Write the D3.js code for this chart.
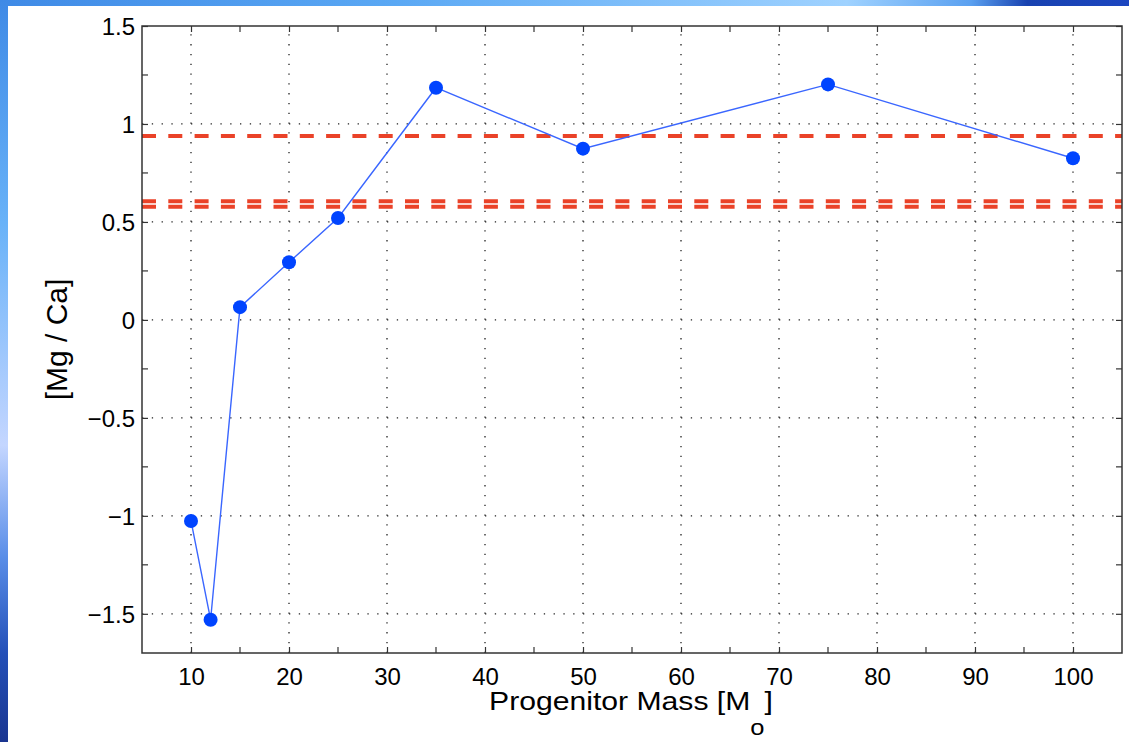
<!DOCTYPE html>
<html><head><meta charset="utf-8">
<script src="https://cdn.jsdelivr.net/npm/d3@7/dist/d3.min.js"></script>
<style>body{margin:0;background:#fff;}svg{display:block;}</style>
</head><body>
<svg id="c" width="1129" height="742"></svg>
<script>
// ---- data ----
const masses = [10, 12, 15, 20, 25, 35, 50, 75, 100];
const mgCa = [-1.026, -1.53, 0.065, 0.294, 0.52, 1.185, 0.874, 1.202, 0.825];
const refLevels = [0.938, 0.606, 0.578];
const xTicks = [10, 20, 30, 40, 50, 60, 70, 80, 90, 100];
const xTickLabels = ["10", "20", "30", "40", "50", "60", "70", "80", "90", "100"];
const xMinor = [15, 25, 35, 45, 55, 65, 75, 85, 95];
const yTicks = [-1.5, -1, -0.5, 0, 0.5, 1, 1.5];
const yTickLabels = ["\u22121.5", "\u22121", "\u22120.5", "0", "0.5", "1", "1.5"];
const yMinor = [-1.25, -0.75, -0.25, 0.25, 0.75, 1.25];
const xTitle = "Progenitor Mass [M";
const xTitleSub = "o";
const yTitle = "[Mg / Ca]";

const svg = d3.select("#c");
const W = 1129, H = 742;
const L = 142, R = 1122, T = 26, B = 653;
const font = "'Liberation Sans', Arial, Helvetica, sans-serif";

// slide background
const defs = svg.append("defs");
const gTop = defs.append("linearGradient").attr("id", "gTop").attr("x1", 0).attr("x2", 1).attr("y1", 0).attr("y2", 0);
[[0, "#3f8ae6"], [0.35, "#5aa8f4"], [0.75, "#9fd2ff"], [0.86, "#5aa0f0"], [0.91, "#1842b0"], [1, "#1c46c0"]]
  .forEach(s => gTop.append("stop").attr("offset", s[0]).attr("stop-color", s[1]));
const gLeft = defs.append("linearGradient").attr("id", "gLeft").attr("x1", 0).attr("x2", 0).attr("y1", 0).attr("y2", 1);
[[0, "#3f8ae6"], [0.3, "#68b2f8"], [0.6, "#c4d6ff"], [0.75, "#5a8ee8"], [0.88, "#2450b8"], [1, "#1a3590"]]
  .forEach(s => gLeft.append("stop").attr("offset", s[0]).attr("stop-color", s[1]));
svg.append("rect").attr("x", 0).attr("y", 0).attr("width", W).attr("height", 6).attr("fill", "url(#gTop)");
svg.append("rect").attr("x", 0).attr("y", 0).attr("width", 8).attr("height", H).attr("fill", "url(#gLeft)");

const x = d3.scaleLinear().domain([5, 105]).range([L, R]);
const y = d3.scaleLinear().domain([-1.7, 1.5]).range([B, T]);

// grid
const grid = svg.append("g").attr("stroke", "#222").attr("stroke-width", 1.3).attr("stroke-dasharray", "1.3,8.5");
grid.selectAll(".vx").data(xTicks).join("line")
  .attr("x1", d => x(d)).attr("x2", d => x(d)).attr("y1", B).attr("y2", T);
grid.selectAll(".hy").data(yTicks.filter(d => d < 1.5)).join("line")
  .attr("x1", L).attr("x2", R).attr("y1", d => y(d)).attr("y2", d => y(d));

// reference dashed lines
svg.append("g").selectAll("line").data(refLevels).join("line")
  .attr("x1", L).attr("x2", R).attr("y1", d => y(d)).attr("y2", d => y(d))
  .attr("stroke", "#ea4228").attr("stroke-width", 4).attr("stroke-dasharray", "14,12.3");

// axes
const tl = 6;
const axB = svg.append("g").attr("transform", `translate(0,${B})`)
  .call(d3.axisBottom(x).tickValues(xTicks).tickSizeInner(-tl).tickSizeOuter(0).tickPadding(14)
    .tickFormat((d, i) => xTickLabels[i]));
const axT = svg.append("g").attr("transform", `translate(0,${T})`)
  .call(d3.axisTop(x).tickValues(xTicks).tickSizeInner(-tl).tickSizeOuter(0).tickFormat(""));
const axL = svg.append("g").attr("transform", `translate(${L},0)`)
  .call(d3.axisLeft(y).tickValues(yTicks).tickSizeInner(-tl).tickSizeOuter(0).tickPadding(13)
    .tickFormat((d, i) => yTickLabels[i]));
const axR = svg.append("g").attr("transform", `translate(${R},0)`)
  .call(d3.axisRight(y).tickValues(yTicks).tickSizeInner(-tl).tickSizeOuter(0).tickFormat(""));
[axB, axT, axL, axR].forEach(a => {
  a.attr("font-size", 24).attr("font-family", font);
  a.select(".domain").remove();
  a.selectAll("line").attr("stroke", "#333").attr("stroke-width", 1.2);
  a.selectAll("text").attr("font-family", font).attr("font-size", 24).attr("fill", "#000");
});
axB.selectAll("text").attr("dy", null).attr("y", 32);
axL.selectAll("text").attr("x", -7).attr("dy", "0.36em");
// minor ticks
const mt = svg.append("g").attr("stroke", "#333").attr("stroke-width", 1.2);
xMinor.forEach(v => {
  mt.append("line").attr("x1", x(v)).attr("x2", x(v)).attr("y1", B).attr("y2", B - tl);
  mt.append("line").attr("x1", x(v)).attr("x2", x(v)).attr("y1", T).attr("y2", T + tl);
});
yMinor.forEach(v => {
  mt.append("line").attr("x1", L).attr("x2", L + tl).attr("y1", y(v)).attr("y2", y(v));
  mt.append("line").attr("x1", R).attr("x2", R - tl).attr("y1", y(v)).attr("y2", y(v));
});
// frame
svg.append("rect").attr("x", L).attr("y", T).attr("width", R - L).attr("height", B - T)
  .attr("fill", "none").attr("stroke", "#333").attr("stroke-width", 1.5);

// data line + markers
const pts = masses.map((m, i) => [m, mgCa[i]]);
svg.append("path").datum(pts)
  .attr("d", d3.line().x(d => x(d[0])).y(d => y(d[1])))
  .attr("fill", "none").attr("stroke", "#3a66ff").attr("stroke-width", 1.4);
svg.append("g").selectAll("circle").data(pts).join("circle")
  .attr("cx", d => x(d[0])).attr("cy", d => y(d[1])).attr("r", 7)
  .attr("fill", "#0044ff");

// titles
const cx = 631;
const xt = svg.append("text").attr("x", cx).attr("y", 710).attr("text-anchor", "middle")
  .attr("font-family", font).attr("font-size", 26).attr("fill", "#000");
xt.append("tspan").text(xTitle);
xt.append("tspan").attr("dy", 25).attr("font-size", 22).text(xTitleSub);
xt.append("tspan").attr("dy", -25).text("]");
const bw = xt.node().getBBox().width;
const sx = 284 / bw;
xt.attr("transform", `translate(${cx},0) scale(${sx},1) translate(${-cx},0)`);

svg.append("text").attr("transform", `translate(67,${(T + B) / 2}) rotate(-90)`)
  .attr("text-anchor", "middle").attr("font-family", font).attr("font-size", 30).attr("fill", "#000")
  .text(yTitle);
</script>
</body></html>
